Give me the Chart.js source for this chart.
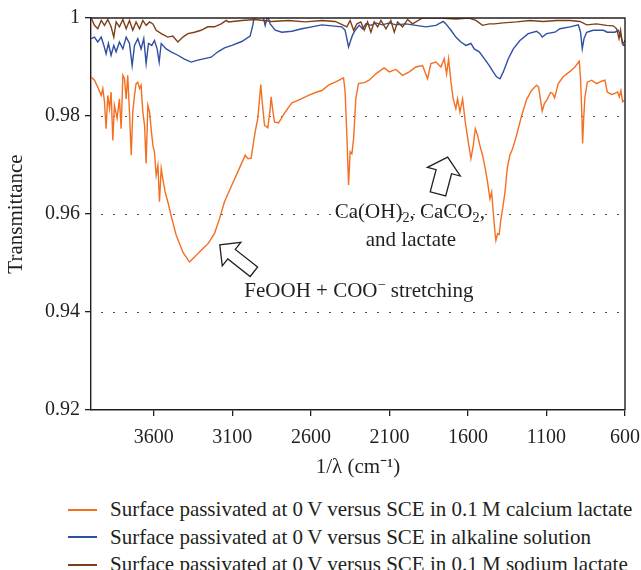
<!DOCTYPE html>
<html>
<head>
<meta charset="utf-8">
<title>FTIR spectra of passivated surfaces</title>
<script src="https://cdn.jsdelivr.net/npm/chart.js@4.4.1/dist/chart.umd.min.js"></script>
<style>
  html, body { margin: 0; padding: 0; background: #fff; }
  #wrap {
    position: relative; width: 641px; height: 570px; overflow: hidden;
    font-family: 'Liberation Serif', 'Times New Roman', serif; color: #231f20;
  }
  #spectra { position: absolute; left: 0; top: 0; }
  #legend { position: absolute; left: 68px; top: 496px; margin: 0; padding: 0; list-style: none; }
  #legend li { display: flex; align-items: center; height: 27.5px; font-size: 21px; white-space: nowrap; }
  #legend .swatch { width: 29px; height: 0; border-top: 2px solid; margin-right: 13px; }
</style>
</head>
<body>
<div id="wrap">
  <canvas id="spectra" width="641" height="480"></canvas>
  <ul id="legend"></ul>
</div>
<script>
// ── Data: wavenumber (cm-1) and transmittance per spectrum ─────────────

const calciumWave = [3999, 3978, 3957, 3935, 3925, 3914, 3904, 3893, 3882, 3872, 3861, 3851, 3834, 3819, 3808,
  3797, 3787, 3776, 3766, 3755, 3744, 3734, 3723, 3713, 3702, 3691, 3681, 3670, 3659, 3649, 3638, 3627, 3617,
  3606, 3596, 3585, 3574, 3564, 3553, 3543, 3528, 3511, 3490, 3458, 3415, 3373, 3341, 3299, 3256, 3214, 3182,
  3150, 3103, 3061, 3018, 3001, 2980, 2965, 2955, 2938, 2927, 2919, 2910, 2895, 2874, 2859, 2853, 2844, 2832,
  2806, 2764, 2721, 2668, 2615, 2562, 2530, 2488, 2445, 2392, 2382, 2371, 2360, 2350, 2339, 2328, 2314, 2297,
  2260, 2229, 2186, 2165, 2133, 2101, 2059, 2016, 1974, 1931, 1889, 1857, 1836, 1804, 1772, 1751, 1736, 1723,
  1708, 1694, 1677, 1666, 1651, 1634, 1617, 1598, 1581, 1566, 1553, 1539, 1524, 1507, 1490, 1475, 1460, 1449,
  1439, 1428, 1422, 1411, 1401, 1390, 1379, 1364, 1350, 1333, 1316, 1290, 1258, 1226, 1195, 1163, 1150, 1139,
  1127, 1114, 1095, 1074, 1061, 1048, 1025, 993, 950, 919, 891, 883, 874, 870, 863, 855, 840, 812, 781, 749,
  728, 713, 685, 664, 647, 636, 626, 615, 604];
const calciumT = [0.9880, 0.9873, 0.9859, 0.9842, 0.9856, 0.9829, 0.9774, 0.9842, 0.9815, 0.9849, 0.9750, 0.9822,
  0.9795, 0.9835, 0.9774, 0.9883, 0.9876, 0.9835, 0.9883, 0.9808, 0.9720, 0.9808, 0.9842, 0.9866, 0.9869, 0.9856,
  0.9863, 0.9808, 0.9781, 0.9703, 0.9822, 0.9808, 0.9774, 0.9740, 0.9727, 0.9679, 0.9699, 0.9625, 0.9693, 0.9672,
  0.9645, 0.9625, 0.9597, 0.9557, 0.9522, 0.9502, 0.9512, 0.9526, 0.9539, 0.9560, 0.9590, 0.9625, 0.9659, 0.9689,
  0.9720, 0.9713, 0.9714, 0.9747, 0.9767, 0.9795, 0.9835, 0.9864, 0.9829, 0.9781, 0.9776, 0.9815, 0.9839, 0.9815,
  0.9788, 0.9786, 0.9808, 0.9827, 0.9834, 0.9842, 0.9849, 0.9852, 0.9863, 0.9869, 0.9878, 0.9849, 0.9761, 0.9659,
  0.9727, 0.9723, 0.9754, 0.9835, 0.9866, 0.9868, 0.9873, 0.9886, 0.9891, 0.9898, 0.9890, 0.9895, 0.9883, 0.9890,
  0.9900, 0.9903, 0.9876, 0.9907, 0.9910, 0.9900, 0.9917, 0.9886, 0.9917, 0.9869, 0.9835, 0.9815, 0.9835, 0.9808,
  0.9835, 0.9788, 0.9747, 0.9713, 0.9740, 0.9774, 0.9761, 0.9740, 0.9720, 0.9693, 0.9665, 0.9631, 0.9645, 0.9604,
  0.9563, 0.9546, 0.9560, 0.9558, 0.9590, 0.9611, 0.9645, 0.9693, 0.9720, 0.9733, 0.9761, 0.9801, 0.9834, 0.9852,
  0.9863, 0.9859, 0.9835, 0.9810, 0.9825, 0.9834, 0.9848, 0.9846, 0.9837, 0.9866, 0.9880, 0.9891, 0.9900, 0.9912,
  0.9876, 0.9795, 0.9744, 0.9795, 0.9839, 0.9869, 0.9873, 0.9866, 0.9871, 0.9873, 0.9849, 0.9844, 0.9846, 0.9849,
  0.9839, 0.9852, 0.9829, 0.9832];

const alkalineWave = [3999, 3978, 3957, 3935, 3918, 3904, 3889, 3872, 3855, 3840, 3819, 3797, 3776, 3755, 3738,
  3723, 3702, 3681, 3664, 3649, 3634, 3613, 3596, 3579, 3566, 3553, 3521, 3490, 3447, 3405, 3362, 3320, 3277,
  3235, 3192, 3150, 3103, 3040, 2987, 2970, 2961, 2925, 2902, 2891, 2880, 2870, 2859, 2844, 2827, 2785, 2721,
  2658, 2594, 2530, 2466, 2403, 2382, 2371, 2360, 2350, 2335, 2318, 2292, 2271, 2250, 2218, 2186, 2144, 2101,
  2059, 1995, 1931, 1868, 1804, 1757, 1740, 1708, 1677, 1645, 1613, 1581, 1560, 1528, 1496, 1464, 1439, 1418,
  1396, 1375, 1343, 1311, 1269, 1216, 1163, 1142, 1127, 1099, 1046, 1014, 950, 897, 883, 872, 861, 844, 802,
  738, 713, 664, 643, 621, 611, 600];
const alkalineT = [0.9958, 0.9961, 0.9951, 0.9961, 0.9944, 0.9927, 0.9948, 0.9924, 0.9944, 0.9931, 0.9951, 0.9937,
  0.9961, 0.9948, 0.9903, 0.9944, 0.9958, 0.9937, 0.9958, 0.9907, 0.9948, 0.9944, 0.9954, 0.9937, 0.9910, 0.9948,
  0.9937, 0.9931, 0.9924, 0.9916, 0.9910, 0.9914, 0.9917, 0.9920, 0.9931, 0.9939, 0.9944, 0.9952, 0.9963, 0.9985,
  1.0003, 1.0005, 1.0001, 0.9985, 0.9999, 0.9999, 0.9988, 0.9982, 0.9975, 0.9971, 0.9973, 0.9978, 0.9982, 0.9986,
  0.9984, 0.9982, 0.9975, 0.9958, 0.9941, 0.9951, 0.9965, 0.9975, 0.9985, 0.9978, 0.9988, 0.9985, 0.9990, 0.9986,
  0.9990, 0.9986, 0.9988, 0.9985, 0.9982, 0.9985, 0.9993, 0.9988, 0.9975, 0.9961, 0.9951, 0.9944, 0.9948, 0.9937,
  0.9931, 0.9917, 0.9903, 0.9890, 0.9880, 0.9876, 0.9890, 0.9917, 0.9937, 0.9954, 0.9968, 0.9973, 0.9968, 0.9961,
  0.9968, 0.9971, 0.9978, 0.9982, 0.9986, 0.9971, 0.9937, 0.9958, 0.9971, 0.9975, 0.9975, 0.9971, 0.9971, 0.9975,
  0.9958, 0.9944, 0.9945];

const sodiumWave = [3999, 3978, 3957, 3935, 3914, 3893, 3872, 3855, 3840, 3819, 3797, 3776, 3755, 3734, 3713,
  3691, 3670, 3649, 3627, 3606, 3585, 3553, 3511, 3479, 3447, 3415, 3383, 3341, 3299, 3256, 3214, 3171, 3139,
  3125, 3040, 2955, 2849, 2742, 2636, 2530, 2445, 2371, 2350, 2328, 2307, 2282, 2260, 2239, 2218, 2197, 2175,
  2154, 2122, 2091, 2069, 2048, 2016, 1984, 1953, 1889, 1783, 1677, 1592, 1549, 1507, 1464, 1432, 1375, 1290,
  1205, 1120, 1035, 950, 887, 844, 781, 717, 675, 653, 638, 628, 617, 604, 600];
const sodiumT = [1.0000, 0.9985, 0.9978, 0.9995, 0.9985, 0.9997, 0.9982, 0.9961, 0.9992, 0.9982, 0.9997, 0.9978,
  0.9995, 0.9975, 0.9992, 0.9978, 0.9995, 0.9985, 0.9992, 0.9988, 0.9975, 0.9968, 0.9961, 0.9963, 0.9951, 0.9961,
  0.9968, 0.9971, 0.9975, 0.9982, 0.9982, 0.9988, 0.9995, 0.9992, 0.9995, 0.9997, 0.9993, 0.9995, 0.9992, 0.9995,
  0.9993, 0.9982, 0.9995, 0.9975, 0.9988, 0.9992, 0.9975, 0.9992, 0.9971, 0.9992, 0.9982, 0.9995, 0.9978, 0.9995,
  0.9971, 0.9992, 0.9982, 0.9997, 0.9988, 1.0000, 1.0000, 0.9998, 1.0000, 0.9995, 0.9985, 0.9988, 0.9988, 0.9990,
  0.9992, 0.9995, 0.9993, 0.9995, 0.9995, 0.9993, 0.9986, 0.9988, 0.9985, 0.9984, 0.9978, 0.9958, 0.9975, 0.9948,
  0.9951, 0.9955];

const SERIES_LABELS = [
  'Surface passivated at 0\u2009V versus SCE in 0.1\u2009M calcium lactate',
  'Surface passivated at 0\u2009V versus SCE in alkaline solution',
  'Surface passivated at 0\u2009V versus SCE in 0.1\u2009M sodium lactate',
];
const SERIES_COLORS = ['#f36f21', '#2f4fa2', '#7e3f16'];

const X_TICKS = [3600, 3100, 2600, 2100, 1600, 1100, 600];
const Y_TICKS = [0.92, 0.94, 0.96, 0.98, 1];
const Y_TICK_LABELS = ['0.92', '0.94', '0.96', '0.98', '1'];
const GRID_LINES = [0.94, 0.96, 0.98];

// annotation anchors, in wavenumber / transmittance
const NOTES = [
  { at: [2294, 0.9445], runs: [['FeOOH + COO'], ['\u2212', 1], [' stretching']] },
  { at: [1970, 0.9606], runs: [['Ca(OH)'], ['2', -1], [', CaCO'], ['2', -1], [',']] },
  { at: [1963, 0.9549], runs: [['and lactate']] },
];
const ARROWS = [
  { tip: [3180, 0.9537], tail: [2963, 0.9482], head: 15, headHalf: 15, shaftHalf: 6 },
  { tip: [1729, 0.9716], tail: [1791, 0.9641], head: 15, headHalf: 17, shaftHalf: 8 },
];

const FONT = "'Liberation Serif', 'Times New Roman', serif";
const INK = '#231f20';

// ── Helpers ──────────────────────────────────────────────────────────

function toPoints(xs, ys) {
  return xs.map((x, i) => ({ x, y: ys[i] }));
}

// text with sub/superscript runs, centred on (cx, cy)
function drawRich(ctx, runs, cx, cy, size) {
  const fontFor = r => `${r[1] ? size * 0.68 : size}px ${FONT}`;
  let total = 0;
  runs.forEach(r => { ctx.font = fontFor(r); total += ctx.measureText(r[0]).width; });
  let x = cx - total / 2;
  const base = cy + size * 0.32;
  ctx.textAlign = 'left';
  ctx.textBaseline = 'alphabetic';
  runs.forEach(r => {
    ctx.font = fontFor(r);
    const dy = r[1] > 0 ? -size * 0.36 : r[1] < 0 ? size * 0.2 : 0;
    ctx.fillText(r[0], x, base + dy);
    x += ctx.measureText(r[0]).width;
  });
}

function blockArrow(ctx, x0, y0, x1, y1, a) {
  const len = Math.hypot(x1 - x0, y1 - y0);
  const ux = (x1 - x0) / len, uy = (y1 - y0) / len;
  const nx = -uy, ny = ux;
  const bx = x1 - ux * a.head, by = y1 - uy * a.head;
  const pts = [
    [x0 + nx * a.shaftHalf, y0 + ny * a.shaftHalf],
    [bx + nx * a.shaftHalf, by + ny * a.shaftHalf],
    [bx + nx * a.headHalf, by + ny * a.headHalf],
    [x1, y1],
    [bx - nx * a.headHalf, by - ny * a.headHalf],
    [bx - nx * a.shaftHalf, by - ny * a.shaftHalf],
    [x0 - nx * a.shaftHalf, y0 - ny * a.shaftHalf],
  ];
  ctx.beginPath();
  pts.forEach((p, i) => i ? ctx.lineTo(p[0], p[1]) : ctx.moveTo(p[0], p[1]));
  ctx.closePath();
  ctx.fillStyle = '#fff';
  ctx.fill();
  ctx.lineWidth = 1.3;
  ctx.lineJoin = 'miter';
  ctx.strokeStyle = INK;
  ctx.stroke();
}

// dotted gridlines, top/right frame and the band annotations
const overlay = {
  id: 'overlay',
  beforeDatasetsDraw(chart) {
    const { ctx, chartArea: a, scales: { y } } = chart;
    ctx.save();
    ctx.strokeStyle = '#4d4d4d';
    ctx.lineWidth = 1.2;
    ctx.setLineDash([2, 10]);
    GRID_LINES.forEach(v => {
      const py = Math.round(y.getPixelForValue(v)) + 0.5;
      ctx.beginPath();
      ctx.moveTo(a.left + 10, py);
      ctx.lineTo(a.right, py);
      ctx.stroke();
    });
    ctx.restore();
  },
  afterDraw(chart) {
    const { ctx, chartArea: a, scales: { x, y } } = chart;
    ctx.save();
    ctx.strokeStyle = INK;
    ctx.lineWidth = 1.4;
    ctx.beginPath();
    ctx.moveTo(a.left, a.top);
    ctx.lineTo(a.right, a.top);
    ctx.lineTo(a.right, a.bottom);
    ctx.stroke();

    ARROWS.forEach(ar => blockArrow(ctx,
      x.getPixelForValue(ar.tail[0]), y.getPixelForValue(ar.tail[1]),
      x.getPixelForValue(ar.tip[0]), y.getPixelForValue(ar.tip[1]), ar));

    ctx.fillStyle = INK;
    NOTES.forEach(n => drawRich(ctx, n.runs,
      x.getPixelForValue(n.at[0]), y.getPixelForValue(n.at[1]), 21));
    ctx.restore();
  }
};

// ── Chart ────────────────────────────────────────────────────────────

const seriesData = [
  toPoints(calciumWave, calciumT),
  toPoints(alkalineWave, alkalineT),
  toPoints(sodiumWave, sodiumT),
];

const axisFont = { family: FONT, size: 20 };

const chart = new Chart(document.getElementById('spectra'), {
  type: 'line',
  data: {
    datasets: seriesData.map((d, i) => ({
      label: SERIES_LABELS[i],
      data: d,
      borderColor: SERIES_COLORS[i],
      borderWidth: 1.4,
      pointRadius: 0,
      tension: 0,
    })).reverse()
  },
  options: {
    responsive: false,
    animation: false,
    parsing: false,
    layout: { padding: { top: 18, right: 16, left: 0, bottom: 0 } },
    plugins: { legend: { display: false }, tooltip: { enabled: false } },
    scales: {
      x: {
        type: 'linear',
        reverse: true,
        min: 600,
        max: 4000,
        afterBuildTicks: s => { s.ticks = X_TICKS.map(v => ({ value: v })); },
        afterFit: s => { s.height = 70; s.paddingLeft = 0; s.paddingRight = 0; },
        grid: { drawOnChartArea: false, tickLength: 6, color: INK, lineWidth: 1.3 },
        border: { color: INK, width: 1.4 },
        ticks: { color: INK, font: axisFont, padding: 10, maxRotation: 0, autoSkip: false,
                 callback: v => String(v) },
        title: { display: true, text: '1/\u03bb (cm\u207b\u00b9)', color: INK,
                 font: { family: FONT, size: 21 }, padding: { top: 0, bottom: 0 } }
      },
      y: {
        type: 'linear',
        min: 0.92,
        max: 1,
        afterBuildTicks: s => { s.ticks = Y_TICKS.map(v => ({ value: v })); },
        afterFit: s => { s.width = 91; s.paddingTop = 0; s.paddingBottom = 0; },
        grid: { drawOnChartArea: false, tickLength: 6, color: INK, lineWidth: 1.3 },
        border: { color: INK, width: 1.4 },
        ticks: { color: INK, font: axisFont, padding: 5, callback: (v, i) => Y_TICK_LABELS[i] },
        title: { display: true, text: 'Transmittance', color: INK,
                 font: { family: FONT, size: 21 }, padding: { top: 4, bottom: 0 } }
      }
    }
  },
  plugins: [overlay]
});

// legend below the plot, in series order
const legend = document.getElementById('legend');
SERIES_LABELS.forEach((label, i) => {
  const li = document.createElement('li');
  li.innerHTML = `<span class="swatch" style="border-color:${SERIES_COLORS[i]}"></span><span>${label}</span>`;
  legend.appendChild(li);
});
</script>
</body>
</html>
